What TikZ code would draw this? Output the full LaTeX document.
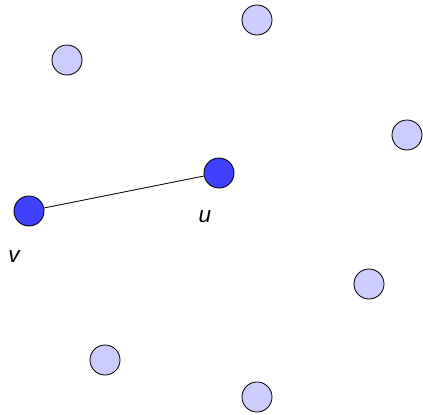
\documentclass[tikz,border=0pt]{standalone}
\usepackage{fontspec}
\setsansfont{Liberation Sans}
\usepackage{xcolor}
\usepackage{tikz}
\definecolor{vertexpale}{RGB}{204,204,255}
\definecolor{vertexblue}{RGB}{64,64,255}

\begin{document}
\begin{tikzpicture}[
  x=0.025cm,y=-0.025cm,
  every node/.style={font=\sffamily\itshape\fontsize{16}{19}\selectfont},
  vertex/.style={circle,draw,line width=0.6pt,fill=vertexpale,
                 minimum size=0.75cm,inner sep=0pt},
  chosen/.style={vertex,fill=vertexblue},
  edge/.style={line width=0.6pt},
]
\useasboundingbox (0,0) rectangle (423,415);

% Pale vertices
\node[vertex] (a) at (257, 20) {};
\node[vertex] (b) at ( 67, 60) {};
\node[vertex] (c) at (407,135) {};
\node[vertex] (d) at (369,284) {};
\node[vertex] (e) at (105,360) {};
\node[vertex] (f) at (257,397) {};

% Chosen pair
\node[chosen] (u) at (219,173) {};
\node[chosen] (v) at ( 29,211) {};
\draw[edge] (v) -- (u);

% Labels
\node (ulab) at (205,217) {u};
\node (vlab) at ( 14,257) {v};

\end{tikzpicture}
\end{document}
